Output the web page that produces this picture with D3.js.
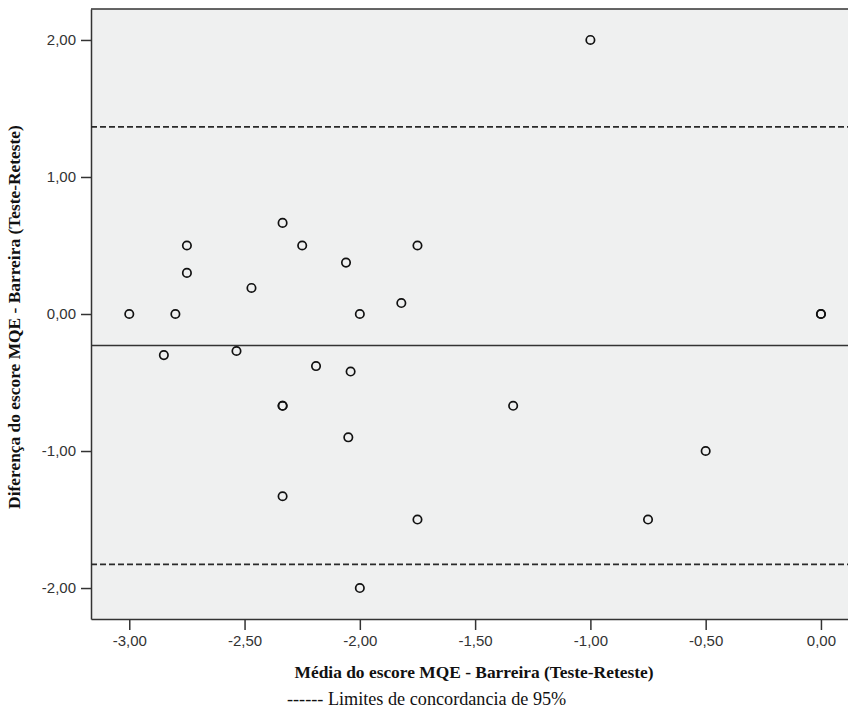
<!DOCTYPE html>
<html>
<head>
<meta charset="utf-8">
<script src="https://cdn.jsdelivr.net/npm/d3@7"></script>
<style>
  body { margin: 0; background: #fff; }
  svg { display: block; }
</style>
</head>
<body>
<svg id="chart"></svg>
<script>
// Bland-Altman data (media, diferenca)
var media = [-1.00, -2.335, -2.75, -2.25, -1.75, -2.06, -2.75, -2.47, -1.82,
             -3.00, -2.80, -2.00, 0.00, 0.00, -2.85, -2.535, -2.19, -2.04,
             -2.335, -2.335, -1.335, -2.05, -0.50, -2.335, -1.75, -0.75, -2.00];
var diferenca = [2.00, 0.665, 0.50, 0.50, 0.50, 0.375, 0.30, 0.19, 0.08,
                 0.00, 0.00, 0.00, 0.00, 0.00, -0.30, -0.27, -0.38, -0.42,
                 -0.67, -0.67, -0.67, -0.90, -1.00, -1.33, -1.50, -1.50, -2.00];
var meanDiff = -0.23;
var limits = [1.365, -1.827];
var xTicks = [-3.0, -2.5, -2.0, -1.5, -1.0, -0.5, 0.0];
var yTicks = [-2, -1, 0, 1, 2];

var width = 848, height = 710;
var margin = {top: 9, right: -2, bottom: 91, left: 91};
var plotW = width - margin.left - margin.right,
    plotH = height - margin.top - margin.bottom;

var svg = d3.select("#chart")
    .attr("width", width)
    .attr("height", height);

var g = svg.append("g")
    .attr("transform", "translate(" + margin.left + "," + margin.top + ")");

var x = d3.scaleLinear().domain([-3.166, 0.126]).range([0, plotW]);
var y = d3.scaleLinear().domain([-2.226, 2.226]).range([plotH, 0]);

var loc = d3.formatLocale({decimal: ",", thousands: ".", grouping: [3], currency: ["", ""], minus: "-"});
var fmt = loc.format(".2f");

// plot background
g.append("rect")
    .attr("width", plotW).attr("height", plotH)
    .attr("fill", "#eff0f0");

// axes
var xAxis = g.append("g")
    .attr("transform", "translate(0," + plotH + ")")
    .call(d3.axisBottom(x).tickValues(xTicks).tickFormat(fmt).tickSize(11).tickSizeOuter(0).tickPadding(5));

var yAxis = g.append("g")
    .call(d3.axisLeft(y).tickValues(yTicks).tickFormat(fmt).tickSize(10).tickSizeOuter(0).tickPadding(5));

[xAxis, yAxis].forEach(function(a) {
    a.select(".domain").attr("stroke", "#333").attr("stroke-width", 1.5);
    a.selectAll(".tick line").attr("stroke", "#333").attr("stroke-width", 1.5);
    a.selectAll(".tick text")
        .attr("fill", "#333")
        .style("font-family", "'Liberation Sans', Arial, sans-serif")
        .style("font-size", "15px");
});

// top frame
g.append("line")
    .attr("x1", 0).attr("x2", plotW)
    .attr("y1", 0).attr("y2", 0)
    .attr("stroke", "#333").attr("stroke-width", 1.5);

// mean line
g.append("line")
    .attr("x1", 0).attr("x2", plotW)
    .attr("y1", y(meanDiff)).attr("y2", y(meanDiff))
    .attr("stroke", "#333").attr("stroke-width", 1.5);

// limits of agreement
g.selectAll(".limit")
    .data(limits)
    .join("line")
    .attr("class", "limit")
    .attr("x1", 0).attr("x2", plotW)
    .attr("y1", function(d) { return y(d); })
    .attr("y2", function(d) { return y(d); })
    .attr("stroke", "#2a2a2a").attr("stroke-width", 1.7)
    .attr("stroke-dasharray", "6,3");

// points
g.selectAll(".pt")
    .data(d3.range(media.length))
    .join("circle")
    .attr("class", "pt")
    .attr("cx", function(i) { return x(media[i]); })
    .attr("cy", function(i) { return y(diferenca[i]); })
    .attr("r", 4.2)
    .attr("fill", "none")
    .attr("stroke", "#111")
    .attr("stroke-width", 1.7);

// axis titles
svg.append("text")
    .attr("x", 474).attr("y", 678)
    .attr("text-anchor", "middle")
    .style("font-family", "'Liberation Serif', 'Times New Roman', serif")
    .style("font-weight", "bold")
    .style("font-size", "17.4px")
    .attr("fill", "#111")
    .text("Média do escore MQE - Barreira (Teste-Reteste)");

svg.append("text")
    .attr("transform", "translate(20," + 317 + ") rotate(-90)")
    .attr("text-anchor", "middle")
    .style("font-family", "'Liberation Serif', 'Times New Roman', serif")
    .style("font-weight", "bold")
    .style("font-size", "17.4px")
    .attr("fill", "#111")
    .text("Diferença do escore MQE - Barreira (Teste-Reteste)");

svg.append("text")
    .attr("x", 287).attr("y", 705)
    .style("font-family", "'Liberation Serif', 'Times New Roman', serif")
    .style("font-size", "18.2px")
    .attr("fill", "#111")
    .text("------ Limites de concordancia de 95%");
</script>
</body>
</html>
